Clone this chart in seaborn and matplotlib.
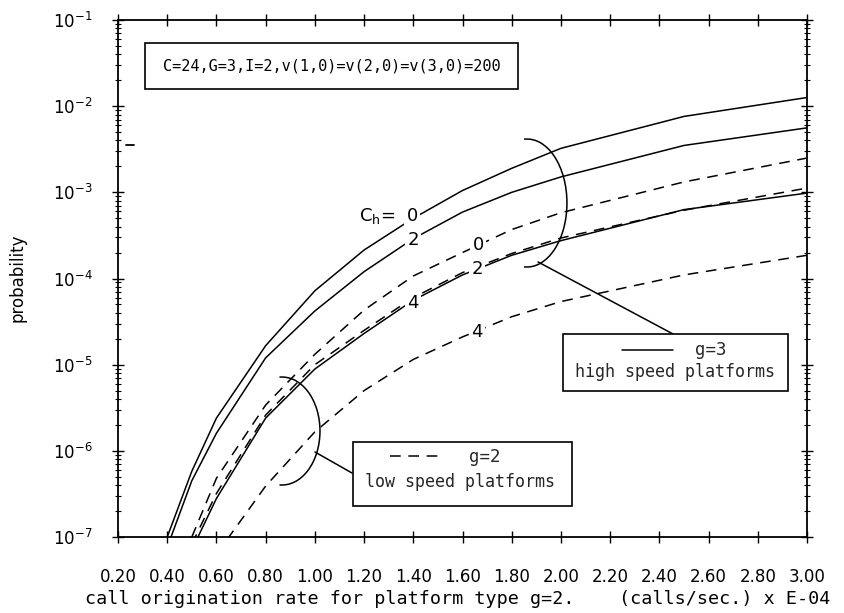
import matplotlib
matplotlib.use("Agg")
import matplotlib.pyplot as plt
import seaborn as sns
import numpy as np
import pandas as pd
from matplotlib.patches import Arc, Rectangle
from matplotlib.lines import Line2D
from matplotlib.ticker import FixedLocator, NullLocator, LogLocator

# ---------------- data ----------------
rate = [0.4, 0.5, 0.6, 0.8, 1.0, 1.2, 1.4, 1.6, 1.8, 2.0, 2.5, 3.0]

# g=3 (high speed platforms), solid lines
g3_ch0 = [1.0e-7, 5.8e-7, 2.4e-6, 1.66e-5, 7.2e-5, 2.14e-4, 5.0e-4, 1.05e-3, 1.9e-3, 3.24e-3, 7.6e-3, 1.26e-2]
g3_ch2 = [7.6e-8, 4.5e-7, 1.6e-6, 1.2e-5, 4.2e-5, 1.2e-4, 2.9e-4, 5.9e-4, 1.0e-3, 1.51e-3, 3.5e-3, 5.6e-3]
g3_ch4 = [None, 7.1e-8, 2.8e-7, 2.4e-6, 8.9e-6, 2.3e-5, 5.6e-5, 1.1e-4, 1.86e-4, 2.75e-4, 6.3e-4, 9.8e-4]

# g=2 (low speed platforms), dashed lines
g2_ch0 = [None, 1.0e-7, 4.8e-7, 3.4e-6, 1.32e-5, 4.3e-5, 1.07e-4, 2.0e-4, 3.7e-4, 5.8e-4, 1.32e-3, 2.5e-3]
g2_ch2 = [None, 8.3e-8, 3.2e-7, 2.6e-6, 1.0e-5, 2.5e-5, 6.0e-5, 1.17e-4, 1.95e-4, 2.95e-4, 6.2e-4, 1.12e-3]
g2_ch4 = [None, None, 6.3e-8, 3.9e-7, 1.66e-6, 5.0e-6, 1.15e-5, 2.1e-5, 3.6e-5, 5.4e-5, 1.1e-4, 1.86e-4]

series = {
    ("g=3", 0): g3_ch0, ("g=3", 2): g3_ch2, ("g=3", 4): g3_ch4,
    ("g=2", 0): g2_ch0, ("g=2", 2): g2_ch2, ("g=2", 4): g2_ch4,
}

x_ticks = [0.2, 0.4, 0.6, 0.8, 1.0, 1.2, 1.4, 1.6, 1.8, 2.0, 2.2, 2.4, 2.6, 2.8, 3.0]
x_tick_labels = ["%.2f" % v for v in x_ticks]
y_ticks = [1e-7, 1e-6, 1e-5, 1e-4, 1e-3, 1e-2, 1e-1]
y_tick_labels = [r"$10^{-7}$", r"$10^{-6}$", r"$10^{-5}$", r"$10^{-4}$",
                 r"$10^{-3}$", r"$10^{-2}$", r"$10^{-1}$"]

# curve labels: (text, x, probability)
curve_labels = [
    ("0", 1.395, 10 ** -3.275),
    ("2", 1.399, 10 ** -3.553),
    ("4", 1.399, 10 ** -4.284),
    ("0", 1.663, 10 ** -3.611),
    ("2", 1.659, 10 ** -3.890),
    ("4", 1.659, 10 ** -4.621),
]

rows = []
for (g, ch), vals in series.items():
    for xv, pv in zip(rate, vals):
        if pv is not None:
            rows.append({"rate": xv, "p": pv, "g": g, "ch": ch})
df = pd.DataFrame(rows)

# ---------------- figure ----------------
sns.set_theme(style="ticks")
plt.rcParams["font.family"] = ["DejaVu Sans"]
plt.rcParams["mathtext.fontset"] = "dejavusans"
MONO = ["DejaVu Sans Mono", "DejaVu Sans"]

fig = plt.figure(figsize=(8.44, 6.13), dpi=100)
ax = fig.add_axes([118 / 844, 76 / 613, 689 / 844, 517 / 613])

for (g, ch), sub in df.groupby(["g", "ch"]):
    ls = "-" if g == "g=3" else (0, (7, 5))
    sns.lineplot(data=sub, x="rate", y="p", ax=ax, color="black", lw=1.1,
                 linestyle=ls, estimator=None, sort=True, legend=False)

ax.set_yscale("log")
ax.set_xlim(0.2, 3.0)
ax.set_ylim(1e-7, 1e-1)

ax.xaxis.set_major_locator(FixedLocator(x_ticks))
ax.set_xticklabels(x_tick_labels)
ax.xaxis.set_minor_locator(NullLocator())
ax.yaxis.set_major_locator(FixedLocator(y_ticks))
ax.set_yticklabels(y_tick_labels)
ax.yaxis.set_minor_locator(LogLocator(base=10, subs=np.arange(2, 10), numticks=50))

ax.tick_params(which="major", direction="inout", length=9, width=1.0, color="black",
               top=True, right=True, labelsize=12, labelcolor="black")
ax.tick_params(which="minor", direction="inout", length=5, width=0.8, color="black",
               left=True, right=True)
ax.tick_params(axis="x", which="major", pad=18)
ax.tick_params(axis="y", which="major", pad=14)
for sp in ax.spines.values():
    sp.set_color("black")
    sp.set_linewidth(1.3)
ax.set_xlabel("")
ax.set_ylabel("")
ax.set_facecolor("white")

fig.text(18 / 844, 1 - 278 / 613, "probability", rotation=90, ha="center", va="center",
         fontsize=12, color="black")
fig.text(458 / 844, (613 - 604) / 613,
         "call origination rate for platform type g=2.    (calls/sec.) x E-04",
         ha="center", va="baseline", fontsize=13.2, color="black", family=MONO)

# curve labels
for txt, xv, pv in curve_labels:
    ax.text(xv, pv, txt, ha="center", va="center", fontsize=13, color="black",
            bbox=dict(facecolor="white", edgecolor="none", pad=1.5), zorder=5)
ax.text(1.326, 10 ** -3.275, r"C$_\mathregular{h}$=", ha="right", va="center",
        fontsize=13, color="black", zorder=5)

T = ax.transAxes
# top parameter box
ax.add_patch(Rectangle((0.0392, 0.8665), 0.5414, 0.089, transform=T, fill=False,
                       edgecolor="black", lw=1.2))
ax.text(0.3099, 0.911, "C=24,G=3,I=2,v(1,0)=v(2,0)=v(3,0)=200", transform=T,
        ha="center", va="center", fontsize=11, color="black", family=MONO)

# stray dash mark
ax.add_line(Line2D([0.0116, 0.0232], [0.758, 0.758], transform=T, color="black", lw=1.3))

# high speed legend
ax.add_patch(Arc((0.5936, 0.646), 0.116, 0.2476, theta1=-92, theta2=92, transform=T,
                 color="black", lw=1.1))
ax.add_line(Line2D([0.6096, 0.8056], [0.532, 0.3926], transform=T, color="black", lw=1.1))
ax.add_patch(Rectangle((0.6459, 0.2824), 0.3266, 0.1103, transform=T, facecolor="white",
                       edgecolor="black", lw=1.2, zorder=4))
ax.add_line(Line2D([0.7315, 0.8055], [0.3617, 0.3617], transform=T, color="black", lw=1.1, zorder=5))
ax.text(0.8607, 0.3617, "g=3", transform=T, ha="center", va="center", fontsize=12.5,
        family=MONO, zorder=5)
ax.text(0.8084, 0.3191, "high speed platforms", transform=T, ha="center", va="center",
        fontsize=12, family=MONO, zorder=5)

# low speed legend
ax.add_patch(Arc((0.238, 0.205), 0.1103, 0.2089, theta1=-92, theta2=92, transform=T,
                 color="black", lw=1.1))
ax.add_line(Line2D([0.2859, 0.3396], [0.1644, 0.1238], transform=T, color="black", lw=1.1))
ax.add_patch(Rectangle((0.3411, 0.06), 0.3179, 0.1238, transform=T, facecolor="white",
                       edgecolor="black", lw=1.2, zorder=4))
ax.add_line(Line2D([0.3948, 0.4673], [0.1567, 0.1567], transform=T, color="black", lw=1.1,
                   linestyle=(0, (7, 5)), zorder=5))
ax.text(0.5327, 0.1547, "g=2", transform=T, ha="center", va="center", fontsize=12.5,
        family=MONO, zorder=5)
ax.text(0.4964, 0.1064, "low speed platforms", transform=T, ha="center", va="center",
        fontsize=12, family=MONO, zorder=5)

fig.savefig("out.png", dpi=100, facecolor="white")
